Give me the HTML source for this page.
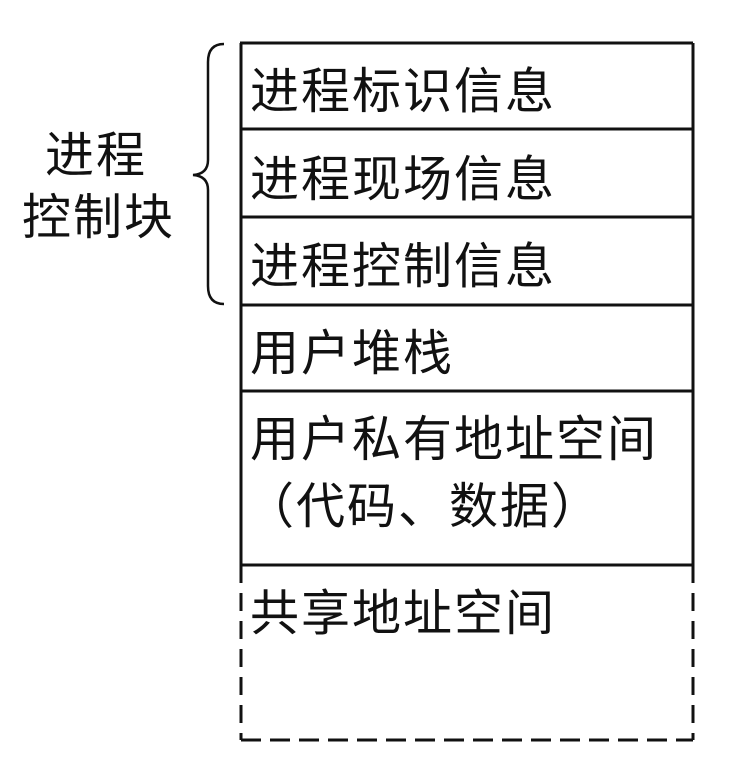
<!DOCTYPE html>
<html><head><meta charset="utf-8"><style>
html,body{margin:0;padding:0;background:#fff;}
svg{display:block;}
text{font-family:"Liberation Sans","Noto Sans CJK SC",sans-serif;font-size:49px;fill:#111;letter-spacing:2px;}
</style></head><body>
<svg width="742" height="777" viewBox="0 0 742 777">
<g stroke="#111" stroke-width="3" fill="none">
<line x1="240" y1="43" x2="693" y2="43"/>
<line x1="240" y1="129" x2="693" y2="129"/>
<line x1="240" y1="217" x2="693" y2="217"/>
<line x1="240" y1="305" x2="693" y2="305"/>
<line x1="240" y1="391" x2="693" y2="391"/>
<line x1="240" y1="565" x2="693" y2="565"/>
<line x1="241" y1="43" x2="241" y2="565"/>
<line x1="693" y1="43" x2="693" y2="565"/>
<line x1="241" y1="565" x2="241" y2="740" stroke-dasharray="18,10"/>
<line x1="693" y1="565" x2="693" y2="740" stroke-dasharray="18,10"/>
<line x1="241" y1="740" x2="693" y2="740" stroke-dasharray="20,9"/>
<path d="M224 44 Q208 44 208 62 L208 160 Q208 174 193 175 Q208 176 208 190 L208 286 Q208 304 224 304" stroke-width="2.5"/>
</g>
<text x="250" y="108">进程标识信息</text>
<text x="250" y="196">进程现场信息</text>
<text x="250" y="283">进程控制信息</text>
<text x="250" y="370">用户堆栈</text>
<text x="250" y="456">用户私有地址空间</text>
<text x="245" y="523">（代码、数据）</text>
<text x="250" y="630">共享地址空间</text>
<text x="45" y="172">进程</text>
<text x="22" y="234">控制块</text>
</svg>
</body></html>
